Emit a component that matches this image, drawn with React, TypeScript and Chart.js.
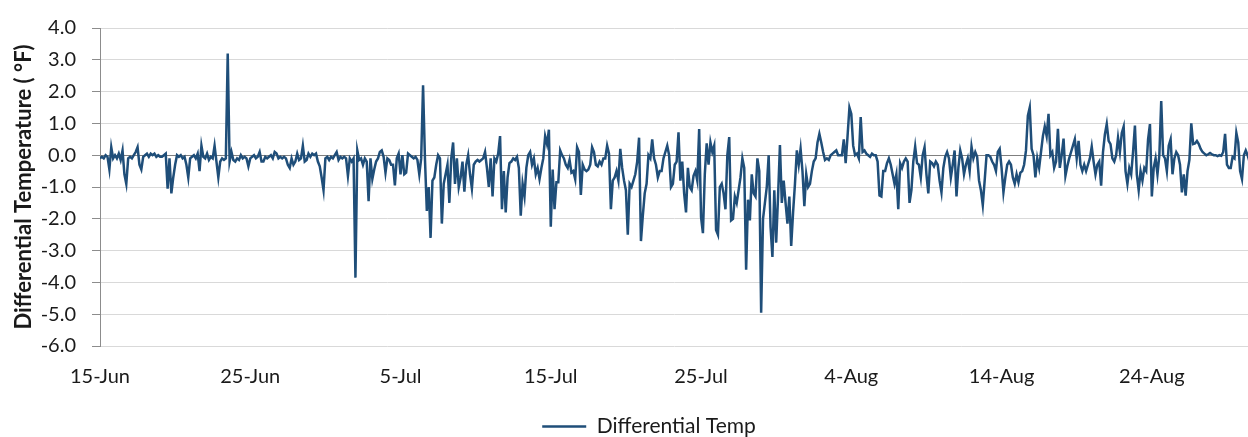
import React, { useEffect, useRef } from 'react';
import { Chart, registerables } from 'chart.js';

Chart.register(...registerables);

const seriesLabel = 'Differential Temp';
const yAxisTitle = 'Differential Temperature ( °F)';
const dateTickLabels = ['15-Jun', '25-Jun', '5-Jul', '15-Jul', '25-Jul', '4-Aug', '14-Aug', '24-Aug'];
const daysPerTick = 10;
const samplesPerDay = 8; // one reading every 3 hours
const yMin = -6;
const yMax = 4;
const xMaxDays = 76.4;

// Differential temperature (°F), 3-hourly readings, in 10-day blocks
const tempJun15 = [
  -0.1, -0.05, -0.1, 0.0, -0.05, -0.45, 0.25, -0.1, 0.0, -0.1,
  0.05, -0.15, 0.15, -0.6, -0.9, -0.1, -0.05, -0.1, 0.0, 0.1,
  0.25, -0.3, -0.45, -0.05, 0.0, 0.05, -0.05, 0.05, 0.0, 0.05,
  -0.05, 0.0, -0.05, -0.05, 0.0, 0.05, -1.05, -0.1, -1.2, -0.7,
  -0.3, 0.0, -0.05, 0.0, -0.1, -0.05, -0.3, -0.7, -0.1, -0.05,
  0.0, -0.1, 0.05, -0.5, 0.3, -0.05, -0.1, 0.05, -0.15, -0.05,
  -0.1, 0.3, -0.2, -0.7, -0.2, -0.1, -0.15, -0.1, 3.2, -0.2,
  0.1, -0.15, -0.2, -0.1, -0.15, 0.0, -0.1, -0.05, -0.1, -0.35,
];
const tempJun25 = [
  -0.1, -0.05, 0.0, -0.1, -0.05, 0.1, -0.2, -0.2, -0.05, -0.1,
  -0.05, 0.0, -0.1, 0.1, 0.05, -0.1, -0.05, -0.1, -0.05, -0.1,
  -0.3, -0.4, -0.1, -0.3, -0.2, 0.05, -0.15, -0.1, 0.3, -0.2,
  -0.15, 0.05, -0.05, 0.05, 0.0, 0.05, -0.2, -0.35, -0.7, -1.1,
  -0.1, -0.05, -0.15, -0.05, -0.1, 0.0, 0.1, -0.15, -0.05, -0.1,
  -0.05, -0.1, -0.65, -0.1, -0.2, -0.1, -3.85, 0.15, -0.15, -0.1,
  -0.3, -0.1, -0.2, -1.45, -0.1, -0.75, -0.45, -0.2, -0.1, 0.1,
  0.15, -0.05, -0.55, -0.1, -0.15, -0.3, -0.3, -0.95, -0.1, 0.05,
];
const tempJul05 = [
  -0.6, 0.0, -0.6, -0.55, 0.05, 0.0, -0.05, -0.1, -0.05, -0.15,
  -0.6, -0.1, 2.2, -0.1, -1.75, -1.0, -2.6, -0.8, -0.7, -0.3,
  0.0, -0.1, -2.15, -0.9, -0.6, -0.3, -1.5, -0.1, 0.4, -0.9,
  -0.1, -1.0, -0.7, -0.2, -1.15, -0.3, 0.0, -0.6, -1.05, -0.3,
  -0.2, -0.15, -0.2, -0.15, -0.1, 0.1, -0.4, -1.0, -0.1, -1.3,
  -0.1, -0.2, 0.05, 0.6, -1.7, -0.5, -1.8, -0.7, -0.25, -0.2,
  -0.1, -0.15, -0.05, -0.4, -1.9, -0.9, -1.3, -0.4, 0.0, 0.1,
  -0.3, -0.1, -0.6, -0.4, -0.75, -0.4, -0.1, 0.6, 0.35, 0.8,
];
const tempJul15 = [
  -2.25, -0.45, -1.7, -0.85, -0.85, 0.15, 0.0, -0.1, -0.3, -0.4,
  -0.15, -0.55, -0.5, -0.75, 0.25, 0.1, -1.25, -0.3, -0.45, -0.5,
  -0.45, -0.3, 0.25, 0.1, -0.3, -0.35, -0.2, -0.3, -0.1, -0.1,
  0.3, 0.05, -1.7, -0.8, -0.7, -0.5, -0.8, 0.2, -0.4, -0.8,
  -1.1, -2.5, -0.9, -1.0, -0.8, -0.6, -0.2, 0.55, -2.7, -1.9,
  -1.2, -0.9, 0.0, -0.1, 0.5, -0.1, -0.3, -0.7, -0.5, -0.5,
  -0.1, 0.1, 0.3, 0.0, -1.0, -0.9, -0.3, -0.2, 0.72, -0.8,
  -0.2, -1.2, -1.8, -0.4, -1.0, -1.1, -0.65, -0.5, -0.8, 0.82,
];
const tempJul25 = [
  -1.95, -2.45, -0.6, 0.37, -0.3, 0.4, 0.1, 0.3, -2.35, -2.5,
  -1.0, -0.9, -1.2, -1.7, 0.0, 0.57, -2.05, -2.0, -1.3, -1.5,
  -1.1, -0.7, -0.1, -0.4, -3.6, -1.4, -2.05, -0.6, -1.2, -1.3,
  -0.1, -0.5, -4.95, -2.0, -1.5, -1.0, 0.0, -2.25, -3.2, -1.1,
  -2.75, -1.3, 0.32, -1.5, -0.8, -1.5, -2.15, -1.3, -2.85, -1.8,
  -0.9, 0.15, -0.3, 0.2, -0.5, -1.6, -0.6, -1.0, -0.9, -0.5,
  -0.2, -0.1, 0.4, 0.67, 0.4, 0.1, -0.15, -0.1, -0.15, 0.0,
  0.05, 0.1, 0.15, 0.0, 0.0, 0.0, 0.5, -0.25, 0.6, 1.5,
];
const tempAug04 = [
  1.3, 0.3, 0.0, 0.05, -0.1, 1.2, 0.1, 0.15, 0.05, 0.0,
  -0.05, 0.05, 0.0, 0.0, -0.2, -1.27, -1.3, -0.5, -0.5, -0.25,
  -0.1, -0.3, -0.6, -0.9, -0.6, -1.7, -0.25, -0.4, -0.2, -0.1,
  -0.2, -1.5, -1.1, -0.2, 0.27, -0.25, -0.3, -0.7, 0.0, 0.25,
  -0.6, -1.2, -0.2, -0.25, -0.35, -0.2, -0.3, -0.8, -1.17, -0.4,
  -0.05, 0.1, -0.1, -0.7, -0.3, 0.15, -1.3, -0.4, 0.15, -0.1,
  -0.6, -0.3, -0.1, -0.5, 0.27, -0.1, 0.1, -0.05, -0.8, -1.1,
  -1.57, -0.8, 0.0, 0.0, -0.05, -0.2, -0.3, -0.5, 0.1, 0.2,
];
const tempAug14 = [
  -0.4, -1.17, -0.7, -0.3, -0.2, -0.3, -0.7, -0.9, -0.6, -0.85,
  -0.55, -0.5, -0.3, 0.15, 1.24, 1.5, 0.2, 0.0, -0.7, -0.1,
  -0.4, 0.1, 0.6, 0.9, 0.6, 1.3, 0.0, 0.1, -0.4, -0.2,
  0.83, -0.4, 0.0, 0.52, -0.65, -0.35, -0.1, 0.1, 0.3, 0.5,
  -0.1, 0.45, -0.3, -0.5, -0.3, -0.5, -0.3, -0.1, 0.27, -0.2,
  -0.6, -0.3, -0.2, -0.96, 0.1, 0.65, 0.98, 0.45, 0.35, -0.1,
  -0.2, 0.0, 0.55, 0.1, 0.7, 0.9, -0.5, -0.9, -0.4, -0.6,
  0.1, 0.93, -0.6, -1.1, -0.5, -0.8, -0.4, -0.5, 0.5, 0.98,
];
const tempAug24 = [
  -1.3, -0.4, -0.1, -0.6, 0.0, 1.7, 0.0, -0.1, -0.5, 0.3,
  0.5, -0.6, -0.1, 0.1, 0.0, -0.3, -1.17, -0.6, -1.27, -0.5,
  -0.15, 1.0, 0.35, 0.37, 0.45, 0.35, 0.2, 0.1, 0.05, 0.0,
  0.03, 0.07, 0.03, 0.0, 0.0, -0.03, 0.0, -0.02, 0.1, 0.67,
  -0.3, -0.4, -0.4, -0.05, -0.1, 0.7, 0.4, -0.5, -0.75, 0.0,
  0.15, 0.0, -0.2, -0.1,
];

const blocks = [tempJun15, tempJun25, tempJul05, tempJul15, tempJul25, tempAug04, tempAug14, tempAug24];

const FONT = 'Lato, "Open Sans", sans-serif';
const LINE_COLOR = '#1f4e79';
const TEXT_COLOR = '#1a1a1a';

const legendNudge = {
  id: 'legendNudge',
  afterLayout(chart: any) {
    const lg = chart.legend;
    if (!lg) return;
    lg.left += 25;
    lg.right += 25;
    lg.top += 10;
    lg.bottom += 10;
  },
};

export default function App() {
  const canvasRef = useRef<HTMLCanvasElement>(null);

  useEffect(() => {
    const points: { x: number; y: number }[] = [];
    blocks.forEach((vals, k) => {
      vals.forEach((v, i) => {
        points.push({ x: k * daysPerTick + i / samplesPerDay, y: v });
      });
    });

    const chart = new Chart(canvasRef.current as HTMLCanvasElement, {
      type: 'line',
      data: {
        datasets: [
          {
            label: seriesLabel,
            data: points,
            borderColor: LINE_COLOR,
            backgroundColor: LINE_COLOR,
            borderWidth: 2.5,
            pointRadius: 0,
            tension: 0,
            fill: false,
          },
        ],
      },
      options: {
        animation: false,
        responsive: false,
        maintainAspectRatio: false,
        parsing: false,
        layout: { padding: { top: 21, right: 0, bottom: 0, left: 0 } },
        plugins: {
          legend: {
            position: 'bottom',
            labels: {
              usePointStyle: true,
              pointStyle: 'line',
              pointStyleWidth: 44,
              padding: 0,
              color: TEXT_COLOR,
              font: { family: FONT, size: 21 },
            },
          },
          tooltip: { enabled: false },
        },
        scales: {
          x: {
            type: 'linear',
            min: 0,
            max: xMaxDays,
            afterBuildTicks: (scale: any) => {
              scale.ticks = dateTickLabels.map((_, i) => ({ value: i * daysPerTick }));
            },
            afterFit: (scale: any) => {
              scale.height = 60;
            },
            ticks: {
              autoSkip: false,
              maxRotation: 0,
              padding: 19,
              color: TEXT_COLOR,
              font: { family: FONT, size: 20 },
              callback: (value: any) => dateTickLabels[Math.round(Number(value) / daysPerTick)] ?? '',
            },
            grid: { display: false, drawTicks: false },
            border: { display: false },
          },
          y: {
            min: yMin,
            max: yMax,
            afterFit: (scale: any) => {
              scale.width = 100;
            },
            ticks: {
              stepSize: 1,
              padding: 16,
              color: TEXT_COLOR,
              font: { family: FONT, size: 20 },
              callback: (value: any) => Number(value).toFixed(1),
            },
            grid: {
              color: (ctx: any) => (ctx.tick && ctx.tick.value === 0 ? '#7f7f7f' : '#d9d9d9'),
              lineWidth: 1,
              tickLength: 8,
              tickColor: '#8c8c8c',
            },
            border: { display: true, color: '#8c8c8c', width: 1 },
            title: {
              display: true,
              text: yAxisTitle,
              color: TEXT_COLOR,
              font: { family: FONT, size: 22, weight: 'bold' },
              padding: { top: 11, bottom: 0 },
            },
          },
        },
      },
      plugins: [legendNudge],
    } as any);

    return () => chart.destroy();
  }, []);

  return (
    <div style={{ position: 'absolute', left: 0, top: 0, width: 1248, height: 437, background: '#fff' }}>
      <canvas ref={canvasRef} width={1248} height={437} style={{ display: 'block' }} />
    </div>
  );
}
